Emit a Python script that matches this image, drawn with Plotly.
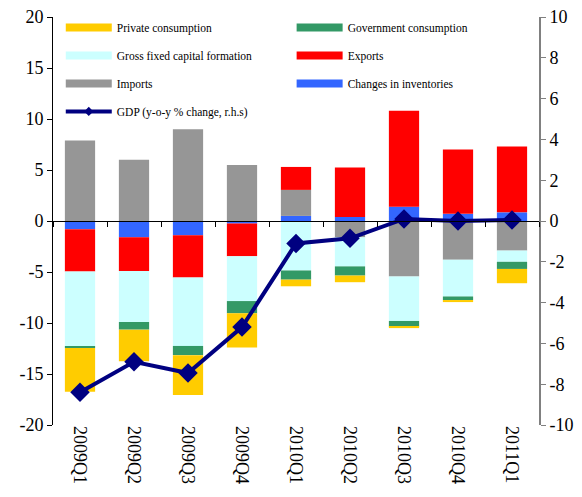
import plotly.graph_objects as go

# Contributions to GDP growth (percentage points), by quarter
quarters = ["2009Q1", "2009Q2", "2009Q3", "2009Q4", "2010Q1",
            "2010Q2", "2010Q3", "2010Q4", "2011Q1"]
inventories = [-0.8, -1.6, -1.4, -0.25, 0.5, 0.4, 1.4, 0.7, 0.85]
imports = [7.9, 6.0, 9.0, 5.5, 2.55, -1.6, -5.45, -3.8, -2.9]
exports = [-4.15, -3.3, -4.15, -3.2, 2.25, 4.85, 9.4, 6.3, 6.45]
gfcf = [-7.35, -5.0, -6.7, -4.4, -4.85, -2.85, -4.35, -3.6, -1.1]
government = [-0.15, -0.75, -0.9, -1.2, -0.9, -0.9, -0.55, -0.35, -0.7]
private = [-4.3, -3.1, -3.9, -3.35, -0.65, -0.65, -0.15, -0.2, -1.4]
# GDP, y-o-y % change (right-hand scale)
gdp = [-8.4, -6.9, -7.45, -5.2, -1.1, -0.85, 0.1, 0.0, 0.05]

left_ticks = [20, 15, 10, 5, 0, -5, -10, -15, -20]
right_ticks = [10, 8, 6, 4, 2, 0, -2, -4, -6, -8, -10]

FONT = "Liberation Serif"
C_PRIV = "#FFCC00"
C_GOV = "#339966"
C_GFCF = "#CCFFFF"
C_EXP = "#FF0000"
C_IMP = "#969696"
C_INV = "#3366FF"
C_GDP = "#000080"

fig = go.Figure()

# stacking order of the bars (relative mode stacks positives and negatives separately)
bar_series = [
    ("Changes in inventories", inventories, C_INV),
    ("Imports", imports, C_IMP),
    ("Exports", exports, C_EXP),
    ("Gross fixed capital formation", gfcf, C_GFCF),
    ("Government consumption", government, C_GOV),
    ("Private consumption", private, C_PRIV),
]
for name, vals, col in bar_series:
    fig.add_trace(go.Bar(x=quarters, y=vals, name=name, marker_color=col,
                         marker_line_width=0, showlegend=False))

fig.add_trace(go.Scatter(x=quarters, y=gdp, yaxis="y2", mode="lines+markers",
                         line=dict(color=C_GDP, width=4),
                         marker=dict(symbol="diamond", size=15, color=C_GDP),
                         showlegend=False, name="GDP (y-o-y % change, r.h.s)"))

# legend keys: wide swatches in two columns
left_col = [("Private consumption", C_PRIV), ("Gross fixed capital formation", C_GFCF),
            ("Imports", C_IMP)]
right_col = [("Government consumption", C_GOV), ("Exports", C_EXP),
             ("Changes in inventories", C_INV)]
for i, (name, col) in enumerate(left_col):
    fig.add_trace(go.Scatter(x=[None], y=[None], mode="lines", name=name,
                             line=dict(color=col, width=8), legend="legend",
                             legendgroup=f"l{i}"))
fig.add_trace(go.Scatter(x=[None], y=[None], mode="lines+markers",
                         name="GDP (y-o-y % change, r.h.s)",
                         line=dict(color=C_GDP, width=4),
                         marker=dict(symbol="diamond", size=7, color=C_GDP),
                         legend="legend", legendgroup="l3"))
for i, (name, col) in enumerate(right_col):
    fig.add_trace(go.Scatter(x=[None], y=[None], mode="lines", name=name,
                             line=dict(color=col, width=8), legend="legend2",
                             legendgroup=f"r{i}"))

# horizontal axis line through zero with ticks between categories
fig.add_trace(go.Scatter(x=[None], y=[None], xaxis="x2", showlegend=False))

n = len(quarters)
legend_common = dict(font=dict(family=FONT, size=11.5, color="black"),
                     bgcolor="rgba(0,0,0,0)", tracegroupgap=9,
                     xanchor="left", yanchor="top", itemwidth=46)

fig.update_layout(
    width=582, height=497,
    margin=dict(l=53, r=43, t=17, b=72, autoexpand=False),
    paper_bgcolor="white", plot_bgcolor="white",
    barmode="relative", bargap=0.44,
    font=dict(family=FONT, size=18, color="black"),
    xaxis=dict(type="category", showline=False, ticks="", showgrid=False,
               tickangle=90, tickfont=dict(size=18), range=[-0.5, n - 0.5],
               automargin=False),
    xaxis2=dict(overlaying="x", anchor="free", position=0.5, range=[-0.5, n - 0.5],
                showline=True, linecolor="black", linewidth=1, ticks="outside",
                ticklen=5, tickcolor="black", tickvals=[i - 0.5 for i in range(n + 1)],
                showticklabels=False, showgrid=False, zeroline=False, side="bottom",
                automargin=False),
    yaxis=dict(range=[-20, 20], tickvals=left_ticks,
               ticktext=[str(v) for v in left_ticks], showgrid=False, zeroline=False,
               showline=True, linecolor="black", linewidth=1, ticks="outside",
               ticklen=5, tickcolor="black", tickfont=dict(size=18), automargin=False),
    yaxis2=dict(range=[-10, 10], overlaying="y", side="right", tickvals=right_ticks,
                ticktext=[str(v) for v in right_ticks], showgrid=False, zeroline=False,
                showline=True, linecolor="#808080", linewidth=2, ticks="outside",
                ticklen=5, tickcolor="#808080", tickfont=dict(size=18),
                automargin=False),
    legend=dict(x=0.016, y=1.01, **legend_common),
    legend2=dict(x=0.491, y=1.01, **legend_common),
)

fig.write_html("out.html")
